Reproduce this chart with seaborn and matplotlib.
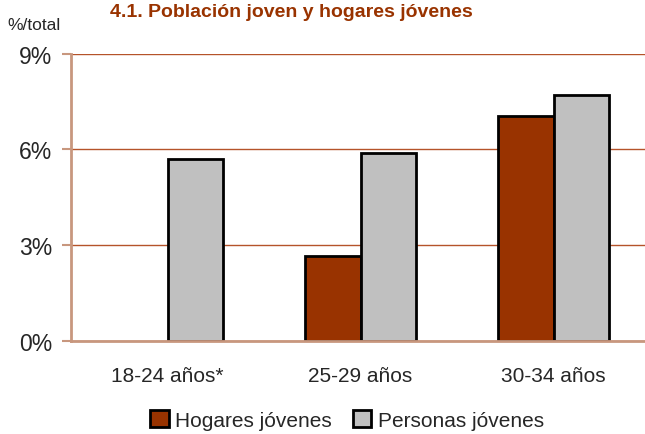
import numpy as np
import pandas as pd
import matplotlib
matplotlib.use("Agg")
import matplotlib.pyplot as plt
import seaborn as sns
from matplotlib.patches import Patch

categories = ["18-24 años*", "25-29 años", "30-34 años"]
series_names = ["Hogares jóvenes", "Personas jóvenes"]
hogares = [np.nan, 2.65, 7.05]
personas = [5.7, 5.9, 7.7]
yticks = [0, 3, 6, 9]
ytick_labels = ["0%", "3%", "6%", "9%"]
title = "4.1. Población joven y hogares jóvenes"
ylabel_text = "%/total"

df = pd.DataFrame({
    "cat": categories * 2,
    "serie": [series_names[0]] * 3 + [series_names[1]] * 3,
    "valor": hogares + personas,
})

sns.set_theme(style="white")
plt.rcParams["font.family"] = ["Liberation Sans", "DejaVu Sans"]

W, H = 645, 435
fig = plt.figure(figsize=(W / 100, H / 100), dpi=100)
ax = fig.add_axes([71 / W, 1 - 342 / H, 579 / W, (342 - 54.5) / H])

palette = {series_names[0]: "#993300", series_names[1]: "#C0C0C0"}
sns.barplot(data=df, x="cat", y="valor", hue="serie", order=categories,
            hue_order=series_names, palette=palette, width=0.57, dodge=True,
            edgecolor="black", linewidth=2, saturation=1, ax=ax, legend=True)

ax.set_xlim(-0.5, 2.5)
ax.set_ylim(0, 9)
ax.set_yticks(yticks)
ax.set_yticklabels(ytick_labels, fontsize=16.5)
ax.set_xlabel("")
ax.set_ylabel("")
ax.tick_params(axis="x", length=0, pad=18, labelsize=15)
ax.tick_params(axis="y", length=6.5, width=1.5, color="#c8977e", pad=7,
               direction="out", left=True)
ax.yaxis.grid(True, color="#b5532a", linewidth=1)
ax.set_axisbelow(True)
for s in ["top", "right"]:
    ax.spines[s].set_visible(False)
for s in ["left", "bottom"]:
    ax.spines[s].set_color("#c8977e")
    ax.spines[s].set_linewidth(2)
ax.spines["bottom"].set_zorder(5)

leg = ax.get_legend()
if leg is not None:
    leg.remove()
handles = [Patch(facecolor=palette[n], edgecolor="black", linewidth=2) for n in series_names]
fig.legend(handles, series_names, loc="center", bbox_to_anchor=(347 / W, 1 - 421 / H),
           ncol=2, frameon=False, fontsize=15, handlelength=0.9, handleheight=0.9,
           handletextpad=0.3, columnspacing=1.0, borderpad=0)

fig.text(291.5 / W, 1 - 17 / H, title, ha="center", va="baseline",
         fontsize=14, fontweight="bold", color="#993300")
fig.text(7 / W, 1 - 30 / H, ylabel_text, ha="left", va="baseline", fontsize=12.5)

fig.savefig("out.png", dpi=100)
